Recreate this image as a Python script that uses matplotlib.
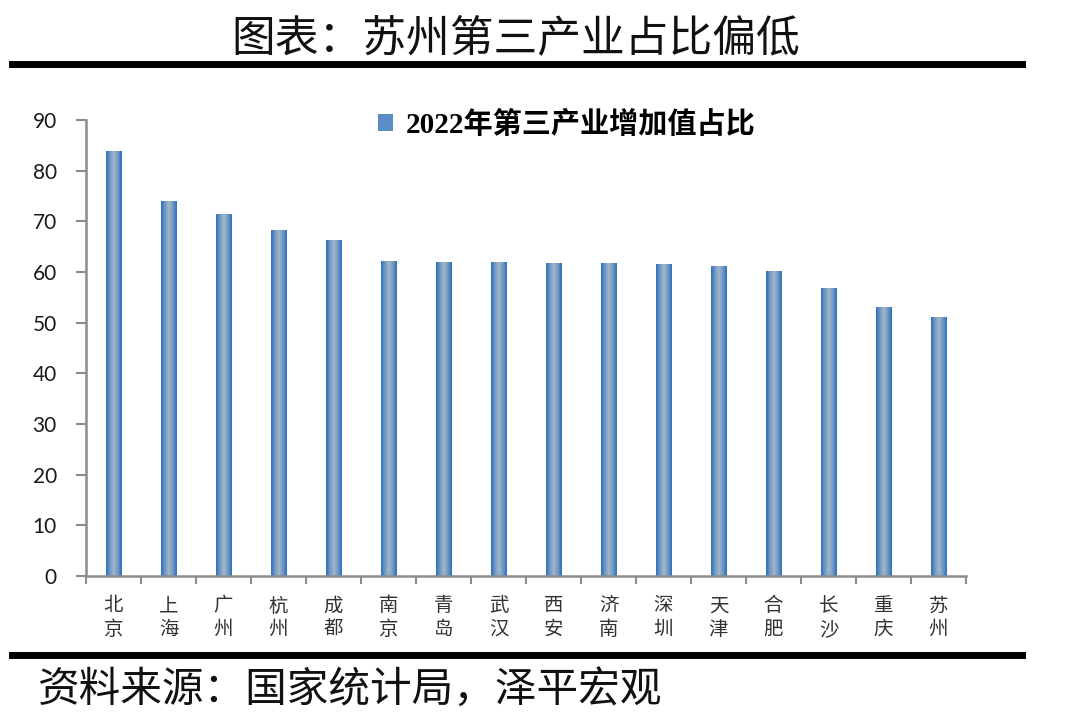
import numpy as np
import matplotlib
matplotlib.use("Agg")
import matplotlib.pyplot as plt
from matplotlib.colors import LinearSegmentedColormap
from matplotlib.lines import Line2D
from matplotlib.patches import Rectangle

plt.rcParams['font.family'] = ['Noto Sans CJK SC', 'DejaVu Sans']

# ---- data ----
cities = ["北京", "上海", "广州", "杭州", "成都", "南京", "青岛", "武汉",
          "西安", "济南", "深圳", "天津", "合肥", "长沙", "重庆", "苏州"]
values = [83.9, 74.1, 71.5, 68.3, 66.4, 62.2, 62.0, 62.0,
          61.8, 61.7, 61.5, 61.2, 60.2, 56.8, 53.0, 51.1]
yticks = [0, 10, 20, 30, 40, 50, 60, 70, 80, 90]
series_name = "2022年第三产业增加值占比"
title = "图表：苏州第三产业占比偏低"
source = "资料来源：国家统计局，泽平宏观"

fig = plt.figure(figsize=(10.8, 7.28), dpi=100)
W, H = 1080, 728
ax = fig.add_axes([86 / W, 1 - 576 / H, 880 / W, 456 / H])

cmap = LinearSegmentedColormap.from_list(
    "barg", ["#2a6fc2", "#7399c0", "#a2b7cb", "#7399c0", "#2a6fc2"])
grad = np.linspace(0, 1, 64).reshape(1, -1)

x = np.arange(len(cities))
bars = ax.bar(x, values, width=0.29, color="none", edgecolor="none", zorder=2)
for b in bars:
    im = ax.imshow(grad, extent=[b.get_x(), b.get_x() + b.get_width(), 0, b.get_height()],
                   aspect="auto", cmap=cmap, zorder=2, interpolation="bicubic")
    im.set_clip_path(b)

ax.set_xlim(-0.5, len(cities) - 0.5)
ax.set_ylim(0, 90)

# spines
for s in ["top", "right"]:
    ax.spines[s].set_visible(False)
for s in ["left", "bottom"]:
    ax.spines[s].set_color("#8c8c8c")
    ax.spines[s].set_linewidth(1.8)

ax.set_yticks(yticks)
ax.set_yticklabels([str(v) for v in yticks], family=["Lato", "DejaVu Sans"], fontsize=15, color="#1a1a1a")
ax.tick_params(axis="y", length=7, width=1.5, color="#8c8c8c", pad=14)

ax.set_xticks(np.arange(-0.5, len(cities), 1.0))
ax.set_xticklabels([])
ax.tick_params(axis="x", which="major", length=6, width=1.5, color="#8c8c8c")
ax.set_xticks(x, minor=True)
ax.set_xticklabels(["\n".join(c) for c in cities], minor=True, fontsize=14,
                   color="#333333", linespacing=1.15)
ax.tick_params(axis="x", which="minor", length=0, pad=14)

# legend
handle = Rectangle((0, 0), 1, 1, facecolor="#5b8cc6", edgecolor="none")
leg = fig.legend([handle], [series_name], loc="center left",
                 bbox_to_anchor=(352 / W, 1 - 125 / H), frameon=False,
                 handlelength=0.5, handleheight=0.5, handletextpad=0.45,
                 prop={"family": ["Liberation Serif", "Noto Sans CJK SC"],
                       "weight": "bold", "size": 21})

# title and rules
fig.text(516 / W, 1 - 38 / H, title, ha="center", va="center", fontsize=31.5,
         color="#111111", fontweight="light")
fig.add_artist(Line2D([12 / W, 1022 / W], [1 - 64 / H, 1 - 64 / H],
                      color="black", linewidth=5, transform=fig.transFigure))
fig.add_artist(Line2D([12 / W, 1022 / W], [1 - 655 / H, 1 - 655 / H],
                      color="black", linewidth=5, transform=fig.transFigure))
fig.text(38 / W, 1 - 691 / H, source, ha="left", va="center", fontsize=30,
         color="#111111", style="italic", fontweight="light")

fig.savefig("out.png", dpi=100)
